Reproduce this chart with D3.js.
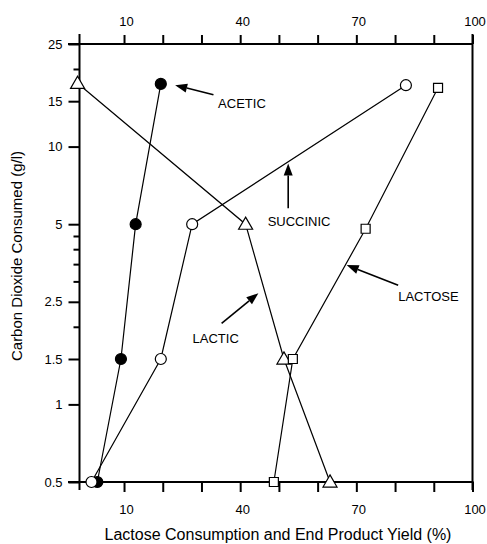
<!DOCTYPE html>
<html>
<head>
<meta charset="utf-8">
<script src="https://cdn.jsdelivr.net/npm/d3@7"></script>
<style>
  body { margin: 0; background: #fff; }
  svg { display: block; font-family: 'Liberation Sans', Arial, sans-serif; }
</style>
</head>
<body>
<div id="chart"></div>
<script>
// values (x = %, y = CO2 consumed g/l)
const acetic = [[3.1, 0.5], [9.2, 1.5], [13.0, 5], [19.5, 17.5]]
const succinic = [[1.6, 0.5], [19.5, 1.5], [27.6, 5], [82.8, 17.3]]
const lactic = [[-2, 17.6], [41.4, 5], [51.3, 1.5], [63.2, 0.5]]
const lactose = [[48.7, 0.5], [53.6, 1.5], [72.4, 4.8], [91.1, 16.9]]

const xTicks = [10, 20, 30, 40, 50, 60, 70, 80, 90, 100]
const xLabels = [10, 40, 70, 100]
const yLabels = [0.5, 1, 1.5, 2.5, 5, 10, 15, 25]
const yMinor = [2, 3, 3.5, 4, 4.5, 20]

// label: text pos, arrow tail, arrow tip (data units)
const notes = [
  { text: 'ACETIC', at: [34.3, 14.1], from: [33.1, 15.9], to: [23.2, 17.3] },
  { text: 'SUCCINIC', at: [47.1, 4.9], from: [52.4, 5.76], to: [52.4, 8.6] },
  { text: 'LACTIC', at: [27.7, 1.73], from: [35.2, 2.06], to: [44.7, 2.7] },
  { text: 'LACTOSE', at: [80.8, 2.52], from: [80.8, 2.9], to: [67.5, 3.47] },
]

const W = 487, H = 544
const x = d3.scaleLinear().domain([-1.5, 100]).range([79.5, 472.5])
const y = d3.scaleLog().domain([0.5, 25]).range([482, 44])

const svg = d3.select('#chart').append('svg').attr('width', W).attr('height', H)

// frame
const frame = svg.append('g').attr('stroke', '#000').attr('stroke-width', 2)
frame.append('line').attr('x1', 68).attr('x2', x(100)).attr('y1', y(25)).attr('y2', y(25))
frame.append('line').attr('x1', 68).attr('x2', x(100) + 1).attr('y1', y(0.5)).attr('y2', y(0.5))
frame.append('line').attr('x1', x(-1.5)).attr('x2', x(-1.5)).attr('y1', y(25) - 10).attr('y2', y(0.5) + 8)
frame.append('line').attr('x1', x(100)).attr('x2', x(100)).attr('y1', y(25) - 10).attr('y2', y(0.5) + 8)

// top axis
const topAxis = d3.axisTop(x).tickValues(xTicks).tickSize(9).tickFormat(d => xLabels.includes(d) ? d : '')
svg.append('g').attr('transform', `translate(0,${y(25)})`).call(topAxis)
  .selectAll('text').attr('y', -18).attr('dx', 2)

// bottom axis
const bottomAxis = d3.axisBottom(x).tickValues(xTicks).tickSize(10).tickFormat(d => xLabels.includes(d) ? d : '')
svg.append('g').attr('transform', `translate(0,${y(0.5)})`).call(bottomAxis)
  .selectAll('text').attr('dy', '1.45em').attr('dx', 2)

// left axis
const leftAxis = d3.axisLeft(y).tickValues(yLabels).tickSize(11).tickFormat(d => d)
svg.append('g').attr('transform', `translate(${x(-1.5)},0)`).call(leftAxis)
  .selectAll('text').attr('x', -17)
svg.append('g').attr('transform', `translate(${x(-1.5)},0)`)
  .call(d3.axisLeft(y).tickValues(yMinor).tickSize(6).tickFormat(''))

svg.selectAll('.domain').remove()
svg.selectAll('.tick line').attr('stroke', '#000').attr('stroke-width', 2)
svg.selectAll('.tick text').attr('fill', '#000').style('font-size', '13px')
  .style('font-family', "'Liberation Sans', Arial, sans-serif")

// axis titles
svg.append('text')
  .attr('x', 278).attr('y', 540)
  .attr('text-anchor', 'middle')
  .style('font-size', '16px')
  .text('Lactose Consumption and End Product Yield (%)')

svg.append('text')
  .attr('transform', 'translate(22,256) rotate(-90)')
  .attr('text-anchor', 'middle')
  .style('font-size', '15px')
  .text('Carbon Dioxide Consumed (g/l)')

// series lines
const line = d3.line().x(d => x(d[0])).y(d => y(d[1]))
const series = [
  { data: acetic, shape: 'dot' },
  { data: succinic, shape: 'ring' },
  { data: lactic, shape: 'tri' },
  { data: lactose, shape: 'box' },
]
series.forEach(s => {
  svg.append('path').datum(s.data).attr('d', line)
    .attr('fill', 'none').attr('stroke', '#000').attr('stroke-width', 1.2)
})

// markers
const tri = d3.symbol().type(d3.symbolTriangle).size(85)
const box = d3.symbol().type(d3.symbolSquare).size(81)
series.forEach(s => {
  const g = svg.append('g')
  if (s.shape === 'dot' || s.shape === 'ring') {
    g.selectAll('circle').data(s.data).enter().append('circle')
      .attr('cx', d => x(d[0])).attr('cy', d => y(d[1])).attr('r', 5.5)
      .attr('fill', s.shape === 'dot' ? '#000' : '#fff')
      .attr('stroke', '#000').attr('stroke-width', 1.2)
  } else {
    g.selectAll('path').data(s.data).enter().append('path')
      .attr('d', s.shape === 'tri' ? tri : box)
      .attr('transform', d => `translate(${x(d[0])},${y(d[1]) + (s.shape === 'tri' ? 1 : 0)})`)
      .attr('fill', '#fff').attr('stroke', '#000').attr('stroke-width', 1.2)
  }
})

// annotations
notes.forEach(n => {
  const x1 = x(n.from[0]), y1 = y(n.from[1])
  const x2 = x(n.to[0]), y2 = y(n.to[1])
  const a = Math.atan2(y2 - y1, x2 - x1)
  const len = 12, hw = 4.5
  const bx = x2 - len * Math.cos(a), by = y2 - len * Math.sin(a)
  svg.append('line').attr('x1', x1).attr('y1', y1).attr('x2', bx).attr('y2', by)
    .attr('stroke', '#000').attr('stroke-width', 1.6)
  svg.append('path')
    .attr('d', `M${x2},${y2}L${bx - hw * Math.sin(a)},${by + hw * Math.cos(a)}L${bx + hw * Math.sin(a)},${by - hw * Math.cos(a)}Z`)
    .attr('fill', '#000')
  svg.append('text').attr('x', x(n.at[0])).attr('y', y(n.at[1]))
    .style('font-size', '13px').text(n.text)
})
</script>
</body>
</html>
